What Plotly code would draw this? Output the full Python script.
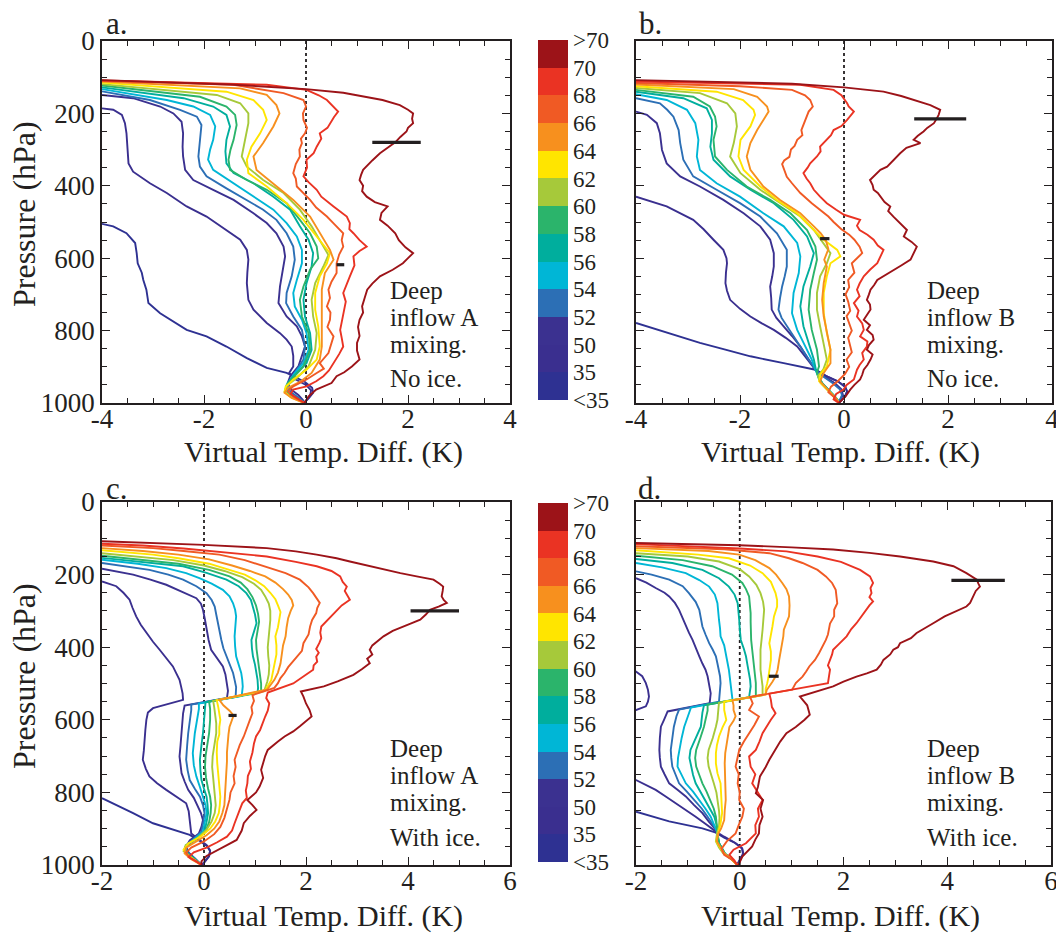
import plotly.graph_objects as go

# ---------------------------------------------------------------------------
# Parcel virtual-temperature difference profiles, (pressure hPa, dTv K) pairs.
# One profile per mixing class; classes run from coolest (<35) to warmest (70).
# ---------------------------------------------------------------------------
CLASSES = ["<35", "35", "50", "52", "54", "56", "58", "60", "62", "64", "66", "68", "70"]
CLASS_COLORS = ["#2e3192", "#3a2f8f", "#3b3190", "#2c6fb5", "#00b6d6", "#00ae9d",
                "#2bb46b", "#a6c93a", "#ffe500", "#f7901e", "#f05a24", "#ea3323", "#9c1318"]
COLORBAR_LABELS = ["<35", "35", "50", "52", "54", "56", "58", "60", "62", "64", "66", "68", "70", ">70"]

PANEL_A = {
    "<35": [(505,-4.0),(512,-3.78),(531,-3.52),(558,-3.35),(586,-3.32),(614,-3.3),(640,-3.22),(660,-3.19),(687,-3.13),(724,-3.09),(752,-2.86),(779,-2.54),(798,-2.34),(816,-1.95),(844,-1.56),(876,-1.16),(903,-0.77),(917,-0.38),(928,-0.22),(942,-0.02),(958,0.12),(972,0.14),(986,0.06),(1000,-0.04)],
    "35": [(186,-4.0),(190,-3.78),(204,-3.61),(227,-3.55),(255,-3.52),(301,-3.5),(338,-3.48),(361,-3.39),(393,-3.06),(420,-2.73),(457,-2.34),(485,-1.95),(522,-1.56),(549,-1.29),(577,-1.16),(604,-1.13),(640,-1.15),(669,-1.16),(715,-1.13),(742,-1.03),(779,-0.77),(807,-0.51),(825,-0.38),(844,-0.28),(870,-0.25),(899,-0.25),(917,-0.33),(935,-0.2),(950,0.0),(965,0.1),(980,0.08),(992,0.0),(1000,-0.04)],
    "50": [(149,-4.0),(158,-3.39),(181,-2.86),(200,-2.6),(223,-2.44),(255,-2.41),(292,-2.42),(319,-2.41),(356,-2.37),(384,-2.21),(411,-1.82),(439,-1.42),(476,-1.03),(503,-0.77),(531,-0.58),(568,-0.44),(595,-0.41),(623,-0.44),(678,-0.51),(724,-0.54),(761,-0.38),(788,-0.18),(816,-0.08),(844,-0.02),(870,-0.08),(899,-0.15),(926,-0.31),(945,-0.36),(962,-0.3),(978,-0.15),(992,-0.06),(1000,-0.03)],
    "52": [(139,-4.0),(163,-3.06),(190,-2.47),(209,-2.14),(232,-2.05),(273,-2.08),(319,-2.11),(347,-2.08),(374,-1.95),(407,-1.56),(439,-1.16),(466,-0.84),(494,-0.58),(531,-0.38),(568,-0.25),(604,-0.22),(650,-0.28),(696,-0.38),(724,-0.39),(761,-0.25),(798,-0.08),(844,-0.02),(880,-0.05),(908,-0.18),(935,-0.3),(955,-0.36),(970,-0.3),(985,-0.15),(1000,-0.02)],
    "54": [(133,-4.0),(163,-2.73),(181,-2.21),(204,-1.88),(236,-1.78),(273,-1.82),(300,-1.88),(328,-1.92),(356,-1.82),(393,-1.42),(430,-1.03),(466,-0.64),(503,-0.38),(540,-0.18),(577,-0.08),(614,-0.08),(660,-0.18),(696,-0.25),(733,-0.22),(770,-0.08),(807,0.01),(853,0.05),(890,-0.05),(917,-0.22),(945,-0.35),(962,-0.38),(978,-0.28),(992,-0.12),(1000,-0.03)],
    "56": [(128,-4.0),(158,-2.4),(181,-1.82),(204,-1.56),(236,-1.49),(273,-1.56),(305,-1.58),(338,-1.56),(365,-1.42),(393,-1.03),(430,-0.64),(466,-0.31),(512,-0.12),(549,0.05),(586,0.14),(623,0.11),(669,0.01),(715,-0.05),(761,-0.02),(807,0.08),(853,0.11),(890,0.01),(917,-0.18),(945,-0.36),(962,-0.4),(978,-0.3),(992,-0.12),(1000,-0.03)],
    "58": [(123,-4.0),(154,-2.08),(181,-1.56),(204,-1.39),(232,-1.36),(273,-1.42),(300,-1.48),(328,-1.52),(356,-1.49),(384,-1.16),(411,-0.77),(448,-0.38),(494,-0.12),(531,0.08),(568,0.21),(600,0.24),(632,0.08),(678,-0.05),(715,-0.12),(761,-0.08),(807,0.05),(853,0.08),(899,-0.05),(926,-0.22),(950,-0.38),(965,-0.4),(980,-0.28),(992,-0.12),(1000,-0.03)],
    "60": [(119,-4.0),(149,-1.75),(172,-1.29),(200,-1.13),(227,-1.13),(273,-1.2),(319,-1.26),(347,-1.16),(384,-0.84),(420,-0.44),(466,-0.12),(512,0.11),(558,0.31),(591,0.44),(623,0.34),(669,0.18),(715,0.11),(761,0.14),(807,0.21),(853,0.18),(899,0.05),(931,-0.18),(952,-0.38),(968,-0.42),(982,-0.3),(994,-0.12),(1000,-0.03)],
    "62": [(115,-4.0),(140,-1.56),(163,-1.03),(190,-0.84),(218,-0.77),(255,-0.9),(292,-1.07),(328,-1.16),(365,-1.13),(402,-0.77),(448,-0.38),(494,-0.05),(540,0.21),(586,0.47),(614,0.41),(650,0.27),(696,0.18),(742,0.18),(788,0.24),(844,0.27),(880,0.21),(908,0.01),(935,-0.25),(955,-0.4),(970,-0.42),(984,-0.3),(995,-0.12),(1000,-0.03)],
    "64": [(112,-4.0),(131,-1.29),(149,-0.77),(177,-0.58),(200,-0.52),(236,-0.64),(282,-0.84),(319,-1.03),(356,-0.97),(393,-0.64),(439,-0.25),(485,0.08),(531,0.27),(577,0.47),(604,0.54),(641,0.37),(687,0.31),(733,0.31),(788,0.31),(844,0.31),(880,0.27),(917,0.11),(940,-0.1),(958,-0.35),(972,-0.42),(986,-0.28),(996,-0.1),(1000,-0.03)],
    "66": [(110,-4.0),(121,-1.42),(144,-0.44),(163,-0.05),(181,0.0),(200,-0.06),(218,-0.05),(240,0.02),(255,-0.02),(270,-0.1),(282,-0.08),(300,-0.13),(319,-0.12),(340,-0.2),(365,-0.25),(380,-0.2),(402,-0.18),(420,-0.05),(439,0.08),(460,0.2),(485,0.41),(505,0.55),(531,0.73),(550,0.7),(568,0.73),(590,0.65),(614,0.6),(641,0.6),(665,0.5),(687,0.44),(710,0.47),(733,0.41),(750,0.48),(770,0.47),(790,0.42),(816,0.54),(840,0.48),(862,0.44),(890,0.27),(905,0.35),(917,0.21),(935,0.01),(954,-0.25),(968,-0.35),(982,-0.25),(995,-0.08),(1000,-0.03)],
    "68": [(109,-4.0),(121,-0.77),(135,0.01),(150,0.25),(163,0.41),(181,0.54),(195,0.63),(210,0.55),(227,0.47),(240,0.42),(255,0.27),(270,0.3),(292,0.21),(310,0.15),(328,0.01),(350,0.02),(374,-0.05),(390,0.05),(411,0.21),(430,0.3),(457,0.54),(475,0.7),(485,0.8),(503,0.86),(520,0.85),(531,0.93),(550,1.05),(568,1.19),(580,1.05),(595,0.93),(620,0.95),(650,0.86),(670,0.8),(696,0.73),(720,0.78),(752,0.73),(775,0.7),(798,0.67),(820,0.7),(844,0.73),(865,0.65),(890,0.54),(910,0.45),(926,0.34),(940,0.2),(954,0.01),(963,-0.25),(975,-0.3),(988,-0.15),(1000,-0.03)],
    "70": [(108,-4.0),(120,-1.5),(133,0.0),(143,0.73),(163,1.5),(177,1.84),(190,2.0),(200,2.1),(215,2.08),(227,2.1),(240,2.0),(250,1.97),(265,1.85),(280,1.75),(295,1.6),(310,1.45),(330,1.3),(356,1.12),(370,1.08),(384,1.05),(400,1.12),(415,1.1),(430,1.19),(445,1.35),(457,1.6),(475,1.48),(494,1.45),(510,1.6),(531,1.75),(550,1.82),(570,1.95),(586,2.1),(600,2.0),(614,1.9),(632,1.7),(650,1.45),(670,1.3),(687,1.2),(710,1.15),(733,1.1),(750,1.12),(770,1.05),(790,1.02),(815,1.05),(834,1.0),(855,1.0),(880,1.05),(899,0.9),(915,0.75),(926,0.6),(945,0.5),(963,0.2),(982,0.05),(1000,-0.03)],
}

PANEL_B = {
    "<35": [(779,-4.0),(805,-3.4),(834,-2.77),(852,-2.3),(871,-1.8),(890,-1.16),(900,-0.85),(908,-0.55),(925,-0.35),(940,-0.12),(955,0.02),(968,0.06),(982,0.02),(994,-0.06),(1000,-0.1)],
    "35": [(430,-4.0),(457,-3.41),(494,-2.9),(520,-2.7),(549,-2.51),(577,-2.32),(600,-2.26),(614,-2.25),(640,-2.27),(669,-2.28),(690,-2.25),(715,-2.19),(740,-2.0),(761,-1.8),(780,-1.58),(798,-1.35),(820,-1.12),(844,-0.9),(880,-0.7),(908,-0.55),(925,-0.35),(940,-0.12),(955,0.02),(968,0.06),(982,0.02),(994,-0.06),(1000,-0.1)],
    "50": [(195,-4.0),(204,-3.79),(227,-3.6),(255,-3.54),(301,-3.5),(338,-3.41),(374,-3.15),(402,-2.77),(439,-2.32),(476,-1.93),(512,-1.61),(549,-1.42),(586,-1.35),(623,-1.35),(650,-1.38),(678,-1.42),(710,-1.4),(742,-1.39),(765,-1.3),(788,-1.16),(815,-1.0),(844,-0.84),(880,-0.68),(908,-0.55),(925,-0.4),(945,-0.18),(962,-0.05),(978,-0.02),(992,-0.08),(1000,-0.1)],
    "52": [(158,-4.0),(172,-3.54),(190,-3.4),(209,-3.28),(246,-3.18),(282,-3.15),(328,-3.09),(374,-2.9),(411,-2.45),(448,-2.0),(485,-1.61),(531,-1.29),(577,-1.1),(623,-1.1),(650,-1.14),(678,-1.19),(710,-1.23),(742,-1.26),(765,-1.2),(788,-1.1),(815,-0.97),(844,-0.84),(880,-0.68),(908,-0.55),(925,-0.42),(945,-0.22),(962,-0.08),(978,-0.04),(992,-0.08),(1000,-0.1)],
    "54": [(147,-4.0),(163,-3.41),(190,-3.02),(227,-2.86),(273,-2.8),(319,-2.83),(356,-2.77),(393,-2.45),(430,-2.0),(476,-1.55),(512,-1.16),(558,-0.9),(595,-0.84),(641,-0.87),(696,-0.97),(752,-1.0),(798,-0.9),(853,-0.71),(880,-0.62),(908,-0.55),(925,-0.5),(945,-0.42),(962,-0.3),(978,-0.2),(992,-0.12),(1000,-0.1)],
    "56": [(140,-4.0),(158,-3.09),(186,-2.64),(218,-2.54),(255,-2.54),(292,-2.57),(328,-2.51),(374,-2.19),(411,-1.8),(448,-1.35),(494,-0.97),(540,-0.71),(586,-0.58),(623,-0.65),(678,-0.78),(733,-0.84),(788,-0.78),(844,-0.65),(880,-0.58),(908,-0.54),(925,-0.5),(945,-0.42),(962,-0.3),(978,-0.2),(992,-0.12),(1000,-0.1)],
    "58": [(135,-4.0),(154,-2.9),(181,-2.58),(209,-2.48),(236,-2.45),(273,-2.51),(319,-2.48),(356,-2.25),(402,-1.87),(439,-1.42),(476,-1.03),(522,-0.71),(568,-0.55),(604,-0.52),(641,-0.58),(687,-0.65),(742,-0.68),(798,-0.62),(853,-0.52),(899,-0.48),(915,-0.52),(935,-0.48),(952,-0.38),(968,-0.28),(984,-0.18),(1000,-0.1)],
    "60": [(130,-4.0),(144,-2.77),(172,-2.25),(200,-2.09),(236,-2.06),(282,-2.12),(319,-2.19),(365,-1.99),(411,-1.61),(448,-1.23),(485,-0.84),(522,-0.58),(558,-0.39),(586,-0.26),(614,-0.33),(650,-0.46),(696,-0.52),(742,-0.52),(788,-0.46),(834,-0.39),(880,-0.33),(908,-0.4),(925,-0.5),(945,-0.45),(962,-0.33),(978,-0.22),(992,-0.13),(1000,-0.1)],
    "62": [(125,-4.0),(140,-2.45),(163,-1.94),(190,-1.74),(204,-1.71),(236,-1.8),(273,-1.99),(319,-2.03),(356,-1.93),(402,-1.61),(439,-1.29),(476,-0.9),(512,-0.65),(549,-0.39),(577,-0.13),(595,-0.07),(614,-0.26),(650,-0.33),(696,-0.39),(752,-0.39),(807,-0.33),(853,-0.26),(899,-0.33),(920,-0.45),(940,-0.48),(958,-0.36),(975,-0.24),(990,-0.14),(1000,-0.1)],
    "64": [(120,-4.0),(133,-2.12),(154,-1.67),(181,-1.48),(195,-1.45),(218,-1.55),(246,-1.67),(282,-1.8),(319,-1.87),(356,-1.8),(402,-1.55),(439,-1.23),(476,-0.84),(512,-0.58),(531,-0.45),(550,-0.35),(575,-0.3),(604,-0.38),(623,-0.33),(669,-0.39),(715,-0.42),(761,-0.39),(807,-0.33),(853,-0.26),(890,-0.26),(917,-0.39),(940,-0.46),(958,-0.35),(975,-0.24),(990,-0.14),(1000,-0.1)],
    "66": [(116,-4.0),(125,-2.0),(135,-1.0),(150,-0.75),(163,-0.65),(172,-0.62),(181,-0.6),(195,-0.68),(218,-0.75),(246,-0.82),(260,-0.8),(273,-0.9),(290,-0.95),(300,-1.02),(320,-1.05),(330,-1.15),(340,-1.19),(356,-1.15),(375,-1.1),(393,-1.0),(420,-0.84),(448,-0.62),(466,-0.46),(485,-0.3),(500,-0.2),(520,-0.05),(535,0.1),(549,0.2),(568,0.3),(586,0.35),(600,0.25),(614,0.15),(640,0.2),(660,0.08),(680,0.1),(700,0.03),(720,0.08),(745,0.12),(760,0.05),(780,0.1),(800,0.15),(820,0.08),(840,0.12),(860,0.15),(880,0.05),(900,0.1),(920,0.02),(940,-0.12),(955,-0.25),(970,-0.3),(985,-0.18),(1000,-0.1)],
    "68": [(112,-4.0),(121,-0.84),(135,-0.2),(150,-0.05),(172,0.06),(181,0.09),(195,0.19),(208,0.12),(218,0.06),(235,-0.05),(246,-0.2),(260,-0.25),(273,-0.33),(292,-0.46),(305,-0.45),(319,-0.52),(338,-0.65),(350,-0.7),(365,-0.78),(380,-0.72),(393,-0.65),(411,-0.58),(430,-0.46),(448,-0.33),(466,-0.15),(480,0.0),(494,0.31),(510,0.25),(522,0.3),(535,0.45),(549,0.57),(565,0.65),(577,0.76),(595,0.7),(614,0.64),(632,0.5),(650,0.38),(670,0.3),(687,0.25),(705,0.3),(724,0.19),(745,0.28),(761,0.25),(780,0.35),(798,0.38),(816,0.31),(830,0.45),(844,0.44),(862,0.35),(880,0.38),(895,0.3),(908,0.25),(925,0.22),(935,0.19),(950,0.05),(963,-0.01),(975,-0.15),(990,-0.2),(1000,-0.1)],
    "70": [(108,-4.0),(118,-1.0),(128,0.0),(140,0.76),(152,1.1),(163,1.34),(177,1.66),(190,1.85),(204,1.82),(215,1.78),(227,1.73),(240,1.6),(250,1.53),(262,1.42),(273,1.34),(282,1.47),(295,1.2),(310,1.08),(325,0.98),(347,0.83),(356,0.7),(370,0.6),(384,0.5),(398,0.55),(411,0.57),(420,0.65),(430,0.7),(445,0.78),(457,0.89),(470,0.85),(485,0.95),(500,1.05),(522,1.21),(540,1.15),(555,1.3),(568,1.4),(585,1.35),(604,1.28),(620,1.1),(632,0.96),(646,0.8),(660,0.64),(674,0.58),(687,0.51),(700,0.48),(715,0.44),(728,0.5),(742,0.51),(755,0.45),(770,0.38),(785,0.5),(798,0.44),(812,0.55),(825,0.57),(840,0.48),(853,0.44),(866,0.55),(880,0.51),(895,0.45),(908,0.38),(922,0.35),(935,0.31),(950,0.2),(963,0.12),(982,0.03),(995,-0.07),(1000,-0.1)],
}

PANEL_C = {
    "<35": [(816,-2.0),(839,-1.65),(857,-1.39),(885,-1.0),(903,-0.61),(917,-0.28),(932,-0.1),(948,0.06),(962,0.12),(976,0.1),(990,0.02),(1000,-0.04)],
    "35": [(219,-2.0),(232,-1.72),(250,-1.58),(269,-1.46),(292,-1.4),(315,-1.33),(338,-1.24),(361,-1.13),(385,-1.0),(407,-0.87),(430,-0.74),(453,-0.61),(470,-0.55),(490,-0.48),(508,-0.45),(527,-0.42),(545,-0.41),(553,-0.6),(560,-0.78),(568,-1.0),(580,-1.1),(600,-1.13),(628,-1.15),(655,-1.16),(685,-1.18),(710,-1.2),(735,-1.14),(756,-1.07),(775,-0.92),(793,-0.74),(812,-0.55),(830,-0.35),(852,-0.3),(876,-0.28),(913,-0.25),(930,-0.1),(945,0.05),(960,0.12),(975,0.1),(990,0.02),(1000,-0.04)],
    "50": [(184,-2.0),(200,-1.39),(214,-1.05),(228,-0.74),(246,-0.45),(265,-0.15),(280,-0.06),(297,-0.02),(325,0.02),(352,0.05),(380,0.09),(407,0.14),(430,0.25),(453,0.37),(475,0.42),(500,0.45),(520,0.47),(540,0.45),(561,-0.38),(582,-0.41),(610,-0.43),(637,-0.44),(670,-0.46),(701,-0.48),(725,-0.46),(747,-0.44),(770,-0.38),(793,-0.31),(815,-0.2),(839,-0.12),(857,-0.06),(876,-0.02),(895,-0.05),(913,-0.1),(932,-0.28),(950,-0.35),(966,-0.3),(982,-0.18),(1000,-0.05)],
    "52": [(168,-2.0),(187,-1.07),(200,-0.7),(214,-0.41),(232,-0.15),(251,0.05),(270,0.15),(288,0.21),(310,0.24),(334,0.27),(357,0.3),(380,0.34),(403,0.38),(425,0.44),(448,0.5),(471,0.57),(490,0.6),(510,0.63),(537,0.62),(558,-0.25),(573,-0.25),(600,-0.28),(637,-0.31),(670,-0.33),(710,-0.35),(740,-0.32),(766,-0.28),(790,-0.18),(812,-0.08),(835,-0.02),(857,0.01),(880,-0.01),(908,-0.05),(930,-0.22),(950,-0.36),(966,-0.32),(982,-0.18),(1000,-0.05)],
    "54": [(159,-2.0),(170,-1.3),(182,-0.74),(196,-0.35),(210,-0.09),(225,0.15),(242,0.37),(260,0.5),(279,0.57),(297,0.61),(315,0.63),(340,0.62),(370,0.6),(398,0.61),(425,0.63),(448,0.68),(471,0.73),(490,0.75),(508,0.76),(534,0.74),(555,-0.1),(570,-0.1),(600,-0.14),(637,-0.18),(665,-0.2),(692,-0.22),(725,-0.2),(756,-0.15),(785,-0.08),(812,-0.02),(835,0.03),(857,0.05),(882,0.02),(908,-0.02),(930,-0.2),(950,-0.36),(966,-0.34),(982,-0.2),(1000,-0.05)],
    "56": [(154,-2.0),(165,-1.2),(177,-0.41),(195,0.05),(214,0.44),(232,0.68),(251,0.83),(270,0.92),(288,0.96),(310,1.0),(334,1.03),(357,0.98),(380,0.93),(403,0.94),(425,0.96),(448,1.0),(471,1.03),(490,1.05),(512,1.06),(526,1.05),(551,0.03),(570,0.02),(600,0.0),(637,-0.02),(670,-0.05),(710,-0.08),(740,-0.07),(766,-0.05),(790,0.0),(812,0.05),(835,0.07),(857,0.08),(882,0.05),(908,0.01),(928,-0.15),(948,-0.35),(964,-0.36),(980,-0.22),(1000,-0.05)],
    "58": [(148,-2.0),(160,-1.1),(170,-0.5),(187,0.1),(205,0.5),(222,0.72),(240,0.85),(262,0.95),(285,1.02),(308,1.06),(330,1.08),(355,1.05),(380,1.02),(405,1.03),(430,1.05),(455,1.08),(480,1.1),(500,1.12),(523,1.12),(550,0.1),(570,0.12),(600,0.12),(637,0.1),(670,0.06),(700,0.03),(730,0.02),(760,0.04),(790,0.08),(812,0.12),(835,0.14),(857,0.13),(882,0.1),(908,0.03),(926,-0.12),(946,-0.35),(962,-0.38),(978,-0.25),(1000,-0.05)],
    "60": [(141,-2.0),(150,-1.3),(160,-0.6),(175,0.0),(190,0.4),(207,0.75),(225,0.98),(242,1.12),(260,1.2),(280,1.27),(300,1.3),(325,1.3),(350,1.28),(375,1.26),(400,1.25),(425,1.26),(450,1.28),(475,1.27),(495,1.24),(521,1.18),(548,0.18),(565,0.2),(582,0.22),(610,0.24),(637,0.24),(670,0.2),(700,0.17),(730,0.16),(760,0.18),(790,0.2),(812,0.22),(835,0.23),(857,0.21),(880,0.15),(903,0.05),(925,-0.12),(945,-0.36),(962,-0.4),(978,-0.26),(1000,-0.05)],
    "62": [(133,-2.0),(145,-1.0),(155,-0.5),(170,0.1),(185,0.45),(200,0.8),(215,1.0),(232,1.18),(250,1.3),(268,1.4),(285,1.45),(303,1.5),(320,1.48),(345,1.45),(370,1.4),(395,1.42),(420,1.42),(445,1.38),(470,1.35),(490,1.32),(519,1.2),(546,0.25),(565,0.28),(582,0.3),(600,0.32),(620,0.3),(640,0.3),(660,0.26),(690,0.25),(720,0.26),(760,0.28),(790,0.3),(812,0.32),(835,0.31),(857,0.29),(880,0.22),(900,0.12),(920,-0.05),(940,-0.3),(958,-0.4),(975,-0.3),(990,-0.15),(1000,-0.05)],
    "64": [(127,-2.0),(135,-1.2),(145,-0.5),(158,0.1),(175,0.55),(190,0.9),(205,1.2),(222,1.4),(240,1.55),(255,1.65),(270,1.72),(285,1.75),(300,1.7),(320,1.65),(345,1.62),(370,1.6),(395,1.55),(420,1.52),(445,1.5),(470,1.45),(490,1.38),(516,1.24),(545,0.3),(560,0.38),(575,0.5),(588,0.58),(600,0.55),(620,0.5),(640,0.48),(665,0.46),(690,0.45),(715,0.45),(740,0.44),(765,0.43),(790,0.42),(812,0.41),(835,0.4),(857,0.36),(880,0.3),(900,0.2),(918,0.05),(935,-0.15),(952,-0.35),(968,-0.38),(984,-0.25),(1000,-0.05)],
    "66": [(120,-2.0),(127,-1.0),(135,-0.4),(145,0.3),(160,0.8),(177,1.2),(196,1.6),(214,1.88),(235,2.05),(251,2.14),(265,2.2),(278,2.27),(292,2.22),(306,2.2),(325,2.12),(343,2.08),(365,2.05),(389,1.95),(410,1.92),(435,1.78),(455,1.65),(471,1.58),(485,1.5),(499,1.45),(512,1.38),(532,0.95),(548,0.98),(565,0.93),(582,0.95),(600,0.9),(620,0.85),(646,0.78),(670,0.7),(690,0.65),(710,0.6),(730,0.62),(755,0.58),(775,0.6),(800,0.52),(820,0.5),(845,0.45),(870,0.4),(895,0.32),(915,0.2),(935,0.0),(952,-0.25),(966,-0.35),(980,-0.28),(993,-0.12),(1000,-0.05)],
    "68": [(115,-2.0),(120,-1.2),(128,-0.4),(140,0.5),(150,1.23),(165,1.8),(177,2.21),(190,2.5),(205,2.67),(220,2.72),(233,2.8),(245,2.76),(255,2.8),(269,2.86),(285,2.7),(300,2.6),(315,2.5),(330,2.4),(343,2.3),(360,2.28),(375,2.3),(389,2.26),(405,2.2),(415,2.25),(426,2.2),(440,2.22),(450,2.15),(462,2.14),(475,2.0),(490,1.85),(500,1.75),(525,1.25),(540,1.22),(555,1.28),(575,1.25),(591,1.2),(610,1.15),(628,1.1),(646,1.02),(665,0.98),(690,0.95),(715,0.9),(735,0.92),(755,0.86),(775,0.85),(795,0.82),(815,0.84),(830,0.75),(848,0.7),(865,0.66),(885,0.6),(905,0.55),(922,0.45),(938,0.25),(952,0.05),(965,-0.2),(978,-0.3),(990,-0.15),(1000,-0.05)],
    "70": [(108,-2.0),(113,-1.0),(118,0.0),(127,1.23),(136,1.8),(145,2.21),(155,2.6),(164,2.86),(175,3.2),(186,3.51),(196,3.85),(205,4.17),(214,4.5),(225,4.62),(233,4.69),(245,4.68),(260,4.66),(270,4.7),(278,4.76),(288,4.6),(297,4.43),(310,4.35),(324,4.24),(335,4.05),(343,3.91),(355,3.7),(370,3.52),(385,3.4),(395,3.3),(407,3.25),(420,3.3),(432,3.2),(444,3.25),(460,3.1),(476,2.93),(494,2.62),(508,2.35),(522,1.9),(536,1.95),(555,2.0),(573,2.07),(591,2.11),(605,2.0),(618,1.88),(632,1.75),(646,1.58),(660,1.45),(683,1.25),(700,1.2),(720,1.15),(738,1.12),(760,1.16),(784,1.09),(800,1.02),(821,0.85),(835,0.95),(848,1.03),(865,0.9),(885,0.78),(905,0.74),(931,0.64),(945,0.45),(960,0.25),(975,0.05),(990,-0.05),(1000,-0.05)],
}

PANEL_D = {
    "<35": [(853,-2.0),(866,-1.7),(880,-1.36),(899,-0.72),(911,-0.46),(925,-0.3),(940,-0.08),(955,0.05),(970,0.06),(985,0.0),(1000,-0.05)],
    "35": [(440,-2.5),(467,-2.0),(480,-1.88),(499,-1.81),(517,-1.77),(536,-1.75),(550,-1.77),(563,-1.81),(573,-2.0),(585,-2.5),(660,-2.8),(740,-2.3),(766,-2.0),(780,-1.8),(793,-1.62),(812,-1.42),(830,-1.23),(848,-1.04),(867,-0.85),(888,-0.65),(908,-0.46),(922,-0.3),(938,-0.1),(953,0.04),(968,0.07),(983,0.02),(1000,-0.05)],
    "50": [(210,-2.0),(222,-1.8),(237,-1.62),(250,-1.45),(260,-1.36),(278,-1.25),(297,-1.17),(320,-1.1),(343,-1.04),(360,-0.98),(380,-0.91),(403,-0.85),(425,-0.78),(445,-0.72),(462,-0.66),(480,-0.62),(499,-0.59),(515,-0.57),(527,-0.56),(554,-0.58),(577,-1.39),(600,-1.46),(619,-1.52),(650,-1.54),(683,-1.55),(705,-1.54),(729,-1.52),(750,-1.45),(775,-1.36),(793,-1.2),(811,-1.04),(835,-0.88),(857,-0.72),(880,-0.6),(903,-0.46),(920,-0.43),(937,-0.42),(953,-0.35),(968,-0.3),(985,-0.15),(1000,-0.05)],
    "52": [(191,-2.0),(200,-1.7),(214,-1.36),(232,-1.1),(251,-0.98),(275,-0.85),(297,-0.78),(320,-0.75),(343,-0.72),(365,-0.66),(389,-0.59),(407,-0.52),(425,-0.46),(445,-0.43),(462,-0.4),(480,-0.38),(499,-0.37),(520,-0.38),(536,-0.4),(550,-0.4),(572,-1.17),(590,-1.22),(619,-1.27),(650,-1.3),(683,-1.33),(705,-1.32),(729,-1.3),(750,-1.24),(775,-1.17),(798,-1.02),(821,-0.88),(845,-0.73),(867,-0.62),(888,-0.52),(908,-0.43),(925,-0.42),(940,-0.4),(955,-0.34),(970,-0.28),(985,-0.15),(1000,-0.05)],
    "54": [(168,-2.0),(180,-1.5),(196,-1.04),(215,-0.78),(233,-0.59),(255,-0.48),(279,-0.43),(300,-0.41),(325,-0.4),(348,-0.38),(370,-0.37),(395,-0.3),(416,-0.27),(440,-0.24),(462,-0.21),(485,-0.19),(508,-0.17),(525,-0.15),(545,-0.14),(566,-0.94),(590,-1.0),(619,-1.07),(650,-1.12),(683,-1.17),(705,-1.19),(729,-1.2),(752,-1.12),(775,-1.04),(798,-0.9),(821,-0.78),(845,-0.66),(867,-0.56),(888,-0.5),(908,-0.44),(925,-0.43),(940,-0.4),(955,-0.34),(970,-0.28),(985,-0.15),(1000,-0.05)],
    "56": [(157,-2.0),(168,-1.3),(187,-0.72),(210,-0.4),(233,-0.21),(255,-0.1),(279,-0.04),(300,-0.02),(325,-0.01),(350,0.0),(380,0.02),(405,0.08),(425,0.12),(450,0.15),(471,0.18),(490,0.2),(508,0.21),(525,0.2),(538,0.18),(560,-0.69),(580,-0.72),(619,-0.75),(650,-0.85),(683,-0.95),(705,-0.97),(729,-0.94),(752,-0.9),(775,-0.85),(798,-0.76),(821,-0.66),(845,-0.57),(867,-0.49),(888,-0.45),(908,-0.43),(925,-0.42),(940,-0.4),(955,-0.34),(970,-0.28),(985,-0.15),(1000,-0.05)],
    "58": [(148,-2.0),(160,-1.1),(177,-0.53),(200,-0.15),(223,0.05),(240,0.12),(260,0.18),(285,0.2),(306,0.21),(330,0.21),(352,0.21),(380,0.22),(407,0.24),(430,0.26),(453,0.28),(475,0.3),(499,0.31),(518,0.31),(535,0.31),(558,-0.62),(575,-0.62),(600,-0.66),(619,-0.69),(650,-0.76),(683,-0.84),(705,-0.86),(729,-0.84),(752,-0.78),(775,-0.72),(798,-0.64),(821,-0.57),(845,-0.5),(867,-0.46),(888,-0.44),(908,-0.43),(925,-0.42),(940,-0.4),(955,-0.34),(970,-0.28),(985,-0.15),(1000,-0.05)],
    "60": [(141,-2.0),(150,-1.0),(164,-0.4),(185,0.0),(205,0.18),(228,0.32),(251,0.4),(275,0.45),(297,0.47),(325,0.46),(352,0.44),(380,0.42),(407,0.4),(435,0.4),(462,0.4),(485,0.42),(508,0.44),(532,0.44),(553,-0.4),(568,-0.41),(600,-0.43),(619,-0.46),(650,-0.52),(683,-0.6),(705,-0.62),(729,-0.6),(756,-0.55),(775,-0.5),(800,-0.45),(825,-0.42),(850,-0.4),(870,-0.39),(894,-0.4),(915,-0.44),(935,-0.46),(952,-0.4),(968,-0.32),(985,-0.15),(1000,-0.05)],
    "62": [(133,-2.0),(145,-0.8),(155,-0.21),(175,0.2),(196,0.44),(220,0.6),(251,0.69),(270,0.72),(288,0.72),(315,0.66),(343,0.63),(365,0.6),(389,0.57),(412,0.6),(435,0.6),(455,0.58),(471,0.57),(485,0.55),(499,0.53),(515,0.5),(530,0.5),(550,-0.3),(573,-0.3),(600,-0.26),(620,-0.33),(646,-0.4),(670,-0.44),(692,-0.46),(720,-0.46),(747,-0.43),(775,-0.37),(802,-0.36),(830,-0.35),(857,-0.34),(885,-0.37),(913,-0.42),(935,-0.45),(952,-0.38),(968,-0.3),(985,-0.15),(1000,-0.05)],
    "64": [(127,-2.0),(135,-0.6),(145,-0.01),(160,0.3),(182,0.57),(200,0.7),(223,0.82),(240,0.9),(260,0.95),(285,0.96),(315,0.95),(335,0.9),(352,0.85),(370,0.84),(389,0.82),(410,0.8),(435,0.76),(462,0.73),(481,0.69),(495,0.63),(508,0.57),(518,0.52),(530,0.5),(546,-0.14),(560,-0.12),(573,-0.12),(590,-0.08),(603,-0.12),(620,-0.2),(637,-0.22),(665,-0.25),(692,-0.28),(720,-0.29),(756,-0.28),(790,-0.27),(821,-0.27),(850,-0.29),(876,-0.3),(900,-0.36),(915,-0.42),(935,-0.44),(952,-0.36),(968,-0.3),(985,-0.15),(1000,-0.05)],
    "66": [(122,-2.0),(130,-0.3),(141,0.57),(155,0.95),(168,1.21),(187,1.5),(205,1.66),(223,1.78),(242,1.85),(260,1.86),(279,1.88),(297,1.82),(315,1.82),(335,1.74),(352,1.72),(365,1.7),(380,1.66),(398,1.6),(416,1.53),(435,1.45),(453,1.34),(467,1.28),(481,1.21),(499,1.08),(517,1.01),(537,0.2),(555,0.25),(573,0.18),(591,0.37),(615,0.28),(637,0.18),(660,0.08),(683,-0.01),(705,-0.05),(729,-0.08),(750,-0.02),(775,-0.04),(800,0.0),(821,-0.01),(845,0.08),(867,0.05),(890,-0.02),(913,-0.08),(935,-0.25),(955,-0.35),(972,-0.3),(988,-0.12),(1000,-0.05)],
    "68": [(116,-2.0),(122,-0.8),(128,0.0),(136,0.9),(150,1.5),(165,1.95),(187,2.32),(205,2.51),(223,2.57),(237,2.52),(251,2.54),(262,2.5),(274,2.57),(285,2.5),(297,2.44),(315,2.35),(334,2.25),(350,2.15),(370,2.06),(390,1.92),(407,1.8),(420,1.78),(435,1.74),(450,1.7),(462,1.74),(480,1.72),(499,1.7),(528,0.57),(545,0.6),(565,0.62),(582,0.69),(600,0.6),(620,0.52),(637,0.44),(660,0.38),(683,0.31),(701,0.18),(729,0.21),(750,0.3),(775,0.24),(800,0.35),(821,0.44),(845,0.35),(867,0.37),(890,0.3),(913,0.31),(940,0.12),(958,-0.12),(972,-0.2),(988,-0.1),(1000,-0.05)],
    "70": [(113,-2.0),(116,-1.0),(119,0.0),(125,1.0),(131,1.8),(140,2.5),(150,3.09),(164,3.73),(177,4.12),(196,4.37),(214,4.57),(225,4.6),(233,4.63),(245,4.55),(260,4.5),(270,4.48),(278,4.44),(288,4.37),(297,4.24),(305,4.1),(315,3.95),(334,3.73),(345,3.6),(361,3.41),(375,3.3),(389,3.09),(400,3.05),(407,2.96),(420,2.9),(435,2.77),(448,2.72),(462,2.64),(472,2.45),(481,2.25),(495,2.0),(508,1.8),(536,1.16),(560,1.3),(586,1.35),(600,1.25),(620,1.08),(637,0.9),(660,0.78),(683,0.68),(710,0.57),(730,0.5),(756,0.39),(785,0.35),(802,0.31),(821,0.45),(845,0.4),(867,0.44),(890,0.38),(913,0.37),(930,0.3),(949,0.24),(965,0.12),(977,0.05),(995,-0.01),(1000,-0.03)],
}

# Horizontal range bars: (pressure hPa, left K, right K)
BARS_A = [(280, 1.30, 2.25), (618, 0.60, 0.75)]
BARS_B = [(215, 1.35, 2.35), (546, -0.46, -0.28)]
BARS_C = [(300, 4.05, 5.00), (588, 0.48, 0.64)]
BARS_D = [(216, 4.08, 5.11), (480, 0.56, 0.75)]

PANEL_TAGS = ["a.", "b.", "c.", "d."]
CASE_TEXT = [["Deep", "inflow A", "mixing.", "No ice."],
             ["Deep", "inflow B", "mixing.", "No ice."],
             ["Deep", "inflow A", "mixing.", "With ice."],
             ["Deep", "inflow B", "mixing.", "With ice."]]
X_RANGES = [(-4, 4), (-4, 4), (-2, 6), (-2, 6)]
X_TICKS = [[-4, -2, 0, 2, 4], [-4, -2, 0, 2, 4], [-2, 0, 2, 4, 6], [-2, 0, 2, 4, 6]]
P_TICKS = [0, 200, 400, 600, 800, 1000]

# ---------------------------------------------------------------------------
W, H = 1056, 935
FONT = "Liberation Serif"
INK = "#231f20"


def fx(px):
    return px / W


def fy(py):
    return 1 - py / H


# plot-area boxes in pixels: (left, right, top, bottom)
BOXES = [(102, 510, 41, 403), (636, 1052, 41, 403),
         (102, 510, 502, 865), (636, 1051, 502, 865)]

fig = go.Figure()
panels = [(PANEL_A, BARS_A), (PANEL_B, BARS_B), (PANEL_C, BARS_C), (PANEL_D, BARS_D)]

for k, (profiles, bars) in enumerate(panels):
    xa = "x" if k == 0 else f"x{k+1}"
    ya = "y" if k == 0 else f"y{k+1}"
    # zero reference line
    fig.add_trace(go.Scatter(x=[0, 0], y=[0, 1000], mode="lines", xaxis=xa, yaxis=ya,
                             line=dict(color=INK, width=1.8, dash="dot"),
                             showlegend=False, hoverinfo="skip"))
    for cls, col in zip(CLASSES, CLASS_COLORS):
        pts = profiles[cls]
        fig.add_trace(go.Scatter(x=[t for _, t in pts], y=[p for p, _ in pts],
                                 mode="lines", xaxis=xa, yaxis=ya, name=cls,
                                 line=dict(color=col, width=1.9),
                                 showlegend=False))
    for p, x0, x1 in bars:
        fig.add_trace(go.Scatter(x=[x0, x1], y=[p, p], mode="lines", xaxis=xa, yaxis=ya,
                                 line=dict(color=INK, width=3.2),
                                 showlegend=False, hoverinfo="skip"))

# discrete colour key, one per row
n = len(CLASS_COLORS)
scale = []
for i, c in enumerate(CLASS_COLORS):
    scale.append([i / n, c])
    scale.append([(i + 1) / n, c])

for ya, top, bot in [("y", 40, 400), ("y3", 503, 862)]:
    fig.add_trace(go.Scatter(
        x=[None], y=[None], mode="markers", xaxis="x" if ya == "y" else "x3", yaxis=ya,
        showlegend=False, hoverinfo="skip",
        marker=dict(color=[0], cmin=0, cmax=n, colorscale=scale, showscale=True,
                    colorbar=dict(tickvals=list(range(n + 1)), ticktext=COLORBAR_LABELS,
                                  ticks="", outlinewidth=0, thickness=30,
                                  thicknessmode="pixels", lenmode="fraction",
                                  len=(bot - top) / H, x=fx(538), xanchor="left",
                                  xpad=0, ypad=0, y=fy((top + bot) / 2),
                                  yanchor="middle",
                                  tickfont=dict(family=FONT, size=23, color=INK)))))

layout = dict(width=W, height=H, margin=dict(l=0, r=0, t=0, b=0, autoexpand=False),
              autosize=False,
              paper_bgcolor="white", plot_bgcolor="white", showlegend=False,
              font=dict(family=FONT, color=INK))

for k, (l, r, t, b) in enumerate(BOXES):
    sx = "xaxis" if k == 0 else f"xaxis{k+1}"
    sy = "yaxis" if k == 0 else f"yaxis{k+1}"
    ya = "y" if k == 0 else f"y{k+1}"
    xa = "x" if k == 0 else f"x{k+1}"
    ticks = X_TICKS[k]
    layout[sx] = dict(domain=[fx(l), fx(r)], anchor=ya, range=list(X_RANGES[k]),
                      tickmode="array", tickvals=ticks,
                      ticktext=[str(v) for v in ticks],
                      ticks="inside", ticklen=8, tickwidth=1.4, tickcolor=INK,
                      ticklabelstandoff=-9, ticklabeloverflow="allow",
                      minor=dict(tickmode="linear", tick0=0, dtick=0.5, ticks="inside",
                                 ticklen=5, tickwidth=1.4, tickcolor=INK),
                      showline=True, linecolor=INK, linewidth=1.6, mirror="allticks",
                      showgrid=False, zeroline=False, automargin=False,
                      tickfont=dict(family=FONT, size=27, color=INK))
    layout[sy] = dict(domain=[fy(b), fy(t)], anchor=xa, range=[1000, 0],
                      tickmode="array", tickvals=P_TICKS,
                      ticks="inside", ticklen=8, tickwidth=1.4, tickcolor=INK,
                      ticklabeloverflow="allow",
                      minor=dict(tickmode="linear", tick0=0, dtick=50, ticks="inside",
                                 ticklen=5, tickwidth=1.4, tickcolor=INK),
                      showline=True, linecolor=INK, linewidth=1.6, mirror="allticks",
                      showgrid=False, zeroline=False, showticklabels=(k % 2 == 0),
                      automargin=False,
                      tickfont=dict(family=FONT, size=27, color=INK))

fig.update_layout(**layout)

# text: panel tags, case notes, axis titles
ann = []
tag_pos = [(104, 24), (637, 24), (104, 489), (636, 489)]
for (px, py), tag in zip(tag_pos, PANEL_TAGS):
    ann.append(dict(x=fx(px), y=fy(py), text=tag, xanchor="left", yanchor="middle",
                    font=dict(size=31)))
note_x = [388, 925, 388, 925]
note_y0 = [290, 290, 748, 748]
for k, lines in enumerate(CASE_TEXT):
    offsets = [0, 27, 54, 89]
    for line, dy in zip(lines, offsets):
        ann.append(dict(x=fx(note_x[k]), y=fy(note_y0[k] + dy), text=line,
                        xanchor="left", yanchor="middle", font=dict(size=25)))
for cx, cy in [(323, 452), (840, 452), (323, 916), (840, 916)]:
    ann.append(dict(x=fx(cx), y=fy(cy), text="Virtual Temp. Diff. (K)",
                    xanchor="center", yanchor="middle", font=dict(size=30)))
for cy in [214, 676]:
    ann.append(dict(x=fx(24), y=fy(cy), text="Pressure (hPa)", textangle=-90,
                    xanchor="center", yanchor="middle", font=dict(size=32)))
for a in ann:
    a.update(xref="paper", yref="paper", showarrow=False)
    a["font"].update(family=FONT, color=INK)
fig.update_layout(annotations=ann)

fig.write_html("out.html", post_script="document.body.style.margin='0';")
